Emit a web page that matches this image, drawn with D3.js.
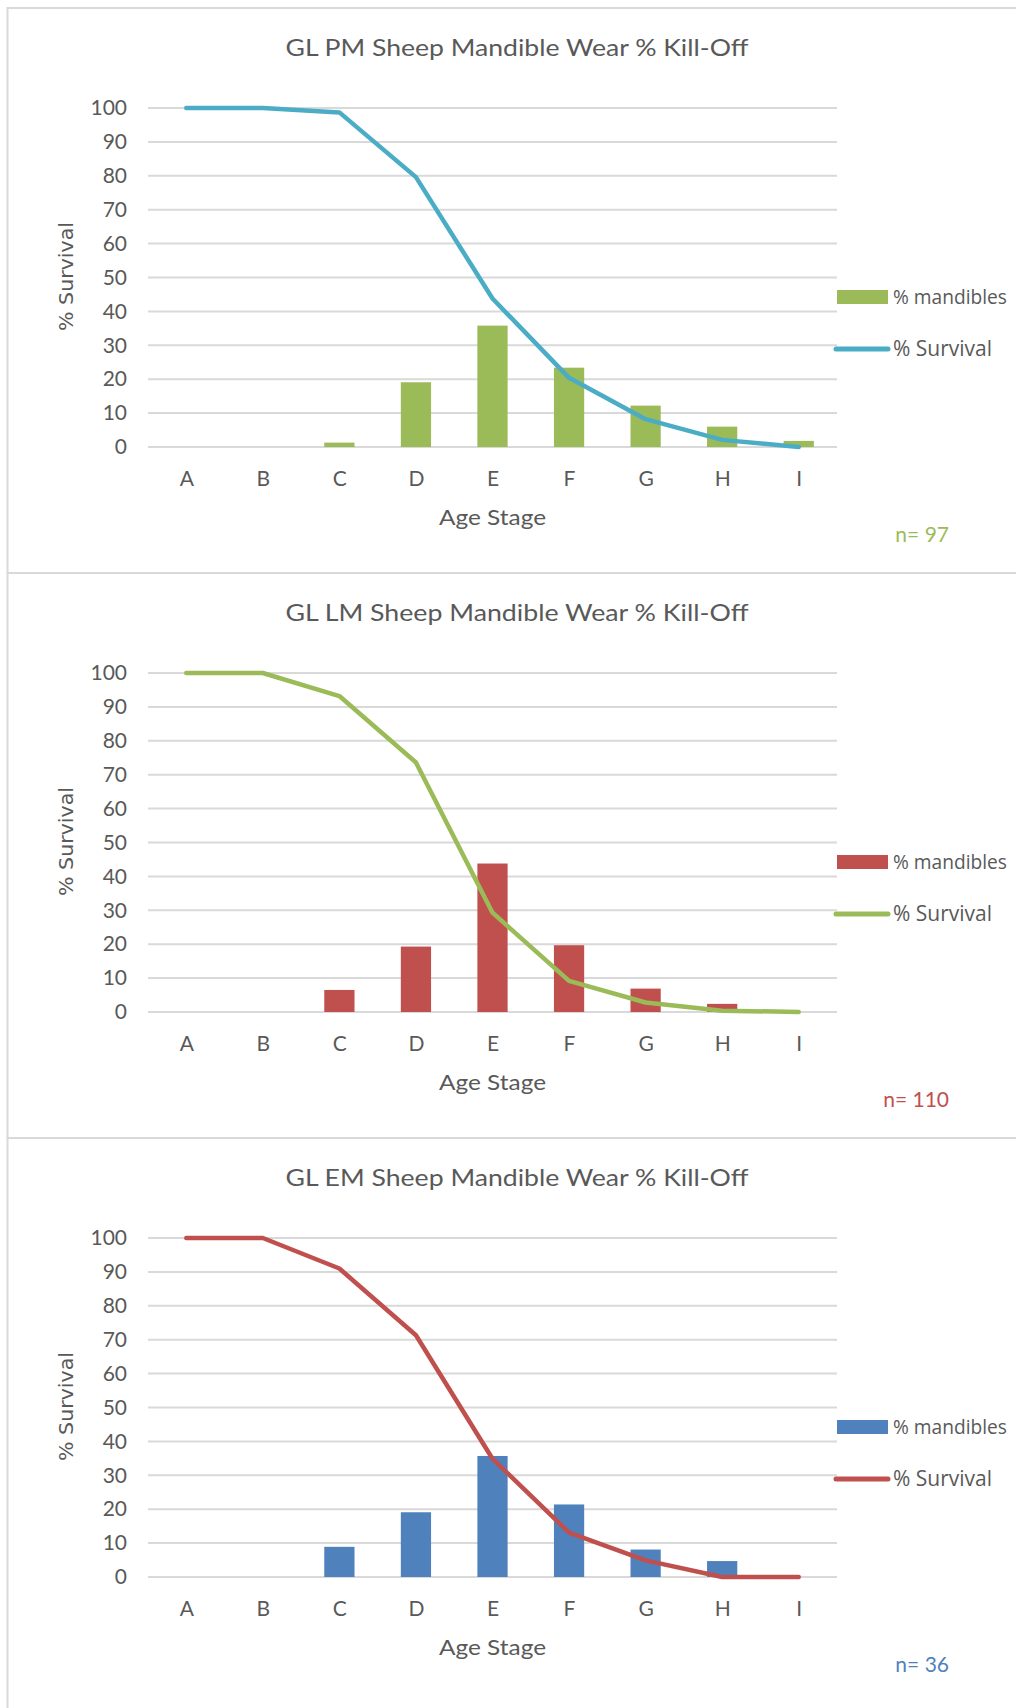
<!DOCTYPE html>
<html>
<head>
<meta charset="utf-8">
<script src="https://cdn.jsdelivr.net/npm/d3@7"></script>
<style>
  html, body { margin: 0; padding: 0; background: #ffffff; }
  svg { display: block; }
</style>
</head>
<body>
<svg id="chart" width="1016" height="1708"></svg>
<script>
// Age stages on the x axis and the y-axis tick values
const stages = ["A", "B", "C", "D", "E", "F", "G", "H", "I"];
const yTickValues = [0, 10, 20, 30, 40, 50, 60, 70, 80, 90, 100];

// GL PM: % of mandibles per stage and cumulative % survival
const pmMandibles = [0, 0, 1.3, 19.1, 35.8, 23.4, 12.2, 6.0, 1.8];
const pmSurvival  = [100, 100, 98.7, 79.6, 43.8, 20.4, 8.2, 2.1, 0];

// GL LM
const lmMandibles = [0, 0, 6.5, 19.3, 43.8, 19.7, 6.9, 2.4, 0];
const lmSurvival  = [100, 100, 93.2, 73.6, 29.3, 9.2, 2.8, 0.4, 0];

// GL EM
const emMandibles = [0, 0, 8.9, 19.1, 35.7, 21.4, 8.1, 4.7, 0];
const emSurvival  = [100, 100, 91.0, 71.3, 34.9, 13.1, 4.9, 0, 0];

const chartTitles = [
  "GL PM Sheep Mandible Wear % Kill-Off",
  "GL LM Sheep Mandible Wear % Kill-Off",
  "GL EM Sheep Mandible Wear % Kill-Off"
];
const sampleLabels = ["n= 97", "n= 110", "n= 36"];
const barColors  = ["#9BBB59", "#C0504D", "#4F81BD"];
const lineColors = ["#4BACC6", "#9BBB59", "#C0504D"];
const mandibleSeries = [pmMandibles, lmMandibles, emMandibles];
const survivalSeries = [pmSurvival, lmSurvival, emSurvival];
const legendLabels = ["% mandibles", "% Survival"];

const svg = d3.select("#chart");
svg.append("rect").attr("width", 1016).attr("height", 1708).attr("fill", "#ffffff");

const textColor = "#595959";
const gridColor = "#d9d9d9";
const panelTops = [8, 573, 1138];
const panelHeights = [565, 565, 600];

chartTitles.forEach((title, i) => {
  const top = panelTops[i];
  const g = svg.append("g");

  // panel frame
  g.append("rect")
    .attr("x", 7.5).attr("y", top)
    .attr("width", 1100).attr("height", panelHeights[i])
    .attr("fill", "none")
    .attr("stroke", gridColor).attr("stroke-width", 2);

  const x = d3.scalePoint().domain(stages).range([148, 837]).padding(0.5);
  const y = d3.scaleLinear().domain([0, 100]).range([top + 439, top + 100]);
  const barWidth = x.step() * 0.395;

  // title
  g.append("text")
    .attr("x", 517).attr("y", top + 47.5)
    .attr("text-anchor", "middle")
    .attr("font-family", "Lato, 'Open Sans', sans-serif")
    .attr("font-size", 23)
    .attr("fill", textColor)
    .attr("textLength", 463).attr("lengthAdjust", "spacingAndGlyphs")
    .text(title);

  // horizontal gridlines
  g.append("g").selectAll("line")
    .data(yTickValues)
    .join("line")
    .attr("x1", 148).attr("x2", 837)
    .attr("y1", d => y(d)).attr("y2", d => y(d))
    .attr("stroke", gridColor).attr("stroke-width", 2);

  // y axis tick labels
  const yAxis = d3.axisLeft(y).tickValues(yTickValues).tickSize(0).tickPadding(0);
  const yAxisG = g.append("g").attr("transform", "translate(127,0)").call(yAxis);
  yAxisG.select(".domain").remove();
  yAxisG.selectAll("text")
    .attr("font-family", "Lato, sans-serif")
    .attr("font-size", 21)
    .attr("fill", textColor);

  // x axis tick labels
  const xAxis = d3.axisBottom(x).tickSize(0).tickPadding(0);
  const xAxisG = g.append("g").attr("transform", `translate(0,${top + 463})`).call(xAxis);
  xAxisG.select(".domain").remove();
  xAxisG.selectAll("text")
    .attr("font-family", "Lato, sans-serif")
    .attr("font-size", 21)
    .attr("fill", textColor);

  // axis titles
  g.append("text")
    .attr("x", 492.5).attr("y", top + 517)
    .attr("text-anchor", "middle")
    .attr("font-family", "Lato, sans-serif")
    .attr("font-size", 22)
    .attr("fill", textColor)
    .attr("textLength", 107).attr("lengthAdjust", "spacingAndGlyphs")
    .text("Age Stage");

  g.append("text")
    .attr("transform", `translate(73,${top + 268.5}) rotate(-90)`)
    .attr("text-anchor", "middle")
    .attr("font-family", "'DejaVu Sans', sans-serif")
    .attr("font-size", 20)
    .attr("fill", textColor)
    .attr("textLength", 109).attr("lengthAdjust", "spacingAndGlyphs")
    .text("% Survival");

  // bars: % mandibles per stage
  const mand = mandibleSeries[i];
  g.append("g").selectAll("rect")
    .data(stages.map((s, k) => ({ stage: s, value: mand[k] })).filter(d => d.value > 0))
    .join("rect")
    .attr("x", d => x(d.stage) - barWidth / 2)
    .attr("y", d => y(d.value))
    .attr("width", barWidth)
    .attr("height", d => y(0) - y(d.value))
    .attr("fill", barColors[i]);

  // line: % survival
  const surv = survivalSeries[i];
  const line = d3.line()
    .x(d => x(d.stage))
    .y(d => y(d.value));
  g.append("path")
    .datum(stages.map((s, k) => ({ stage: s, value: surv[k] })))
    .attr("d", line)
    .attr("fill", "none")
    .attr("stroke", lineColors[i])
    .attr("stroke-width", 4.5)
    .attr("stroke-linejoin", "round")
    .attr("stroke-linecap", "round");

  // legend
  const legY = y(0);
  g.append("rect")
    .attr("x", 837).attr("y", legY - 157)
    .attr("width", 51).attr("height", 14)
    .attr("fill", barColors[i]);
  g.append("line")
    .attr("x1", 836).attr("x2", 888)
    .attr("y1", legY - 98).attr("y2", legY - 98)
    .attr("stroke", lineColors[i])
    .attr("stroke-width", 5)
    .attr("stroke-linecap", "round");
  g.append("text")
    .attr("x", 893).attr("y", legY - 143)
    .attr("font-family", "'Open Sans', sans-serif")
    .attr("font-size", 20)
    .attr("fill", textColor)
    .attr("textLength", 114).attr("lengthAdjust", "spacingAndGlyphs")
    .text(legendLabels[0]);
  g.append("text")
    .attr("x", 893).attr("y", legY - 91)
    .attr("font-family", "'Open Sans', sans-serif")
    .attr("font-size", 21)
    .attr("fill", textColor)
    .text(legendLabels[1]);

  // sample size
  g.append("text")
    .attr("x", 949).attr("y", legY + 95)
    .attr("text-anchor", "end")
    .attr("font-family", "Lato, sans-serif")
    .attr("font-size", 21)
    .attr("fill", barColors[i])
    .text(sampleLabels[i]);
});
</script>
</body>
</html>
